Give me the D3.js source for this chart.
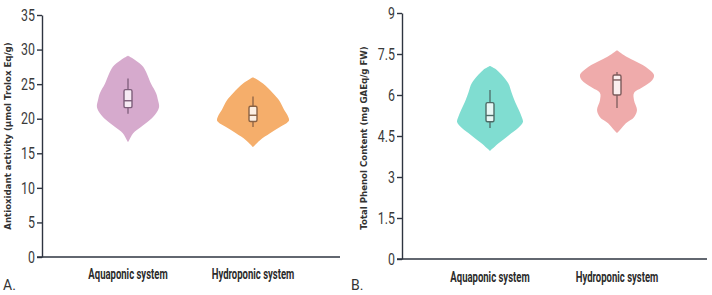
<!DOCTYPE html>
<html>
<head>
<meta charset="utf-8">
<script src="https://cdn.jsdelivr.net/npm/d3@7"></script>
<style>
	body { margin: 0; background: #fff; }
	.tick text { font-family: "Roboto", sans-serif; font-size: 16.5px; fill: #3a3a3a; }
	.xlab { font-family: "Roboto", sans-serif; font-size: 14px; fill: #2b2b2b; font-weight: bold; }
	.ylab { font-family: "DejaVu Sans", sans-serif; font-weight: bold; font-size: 8.6px; fill: #333; }
	.plab { font-family: "Roboto", sans-serif; font-size: 14px; fill: #333; }
</style>
</head>
<body>
<svg id="chart" width="712" height="295"></svg>
<script>
// categories and labels
var systems = ['Aquaponic system', 'Hydroponic system'];
var panelLetters = ['A.', 'B.'];
var yTitles = ['Antioxidant activity (\u00b5mol Trolox Eq/g)', 'Total Phenol Content (mg GAEq/g FW)'];
var ticksA = [0, 5, 10, 15, 20, 25, 30, 35];
var ticksB = [0, 1.5, 3, 4.5, 6, 7.5, 9];

// violin outlines: value levels and relative half-width (density)
var aquaA_levels = [16.6, 16.9, 17.9, 18.8, 19.8, 20.8, 21.7, 22.7, 23.7, 25.1, 27.5, 28.5, 29.1];
var aquaA_density = [0, 0.03, 0.14, 0.35, 0.59, 0.76, 0.84, 0.81, 0.76, 0.62, 0.41, 0.19, 0];
var hydroA_levels = [15.9, 16.9, 17.9, 18.8, 19.7, 20.3, 21.3, 22.7, 23.7, 25.1, 26.0];
var hydroA_density = [0, 0.19, 0.46, 0.73, 0.97, 0.95, 0.84, 0.70, 0.54, 0.27, 0];
var aquaB_levels = [3.95, 4.24, 4.53, 4.79, 5.01, 5.19, 5.45, 5.81, 6.1, 6.44, 6.91, 7.06];
var aquaB_density = [0, 0.24, 0.51, 0.76, 0.89, 0.86, 0.78, 0.66, 0.58, 0.49, 0.19, 0];
var hydroB_levels = [4.61, 4.72, 4.97, 5.19, 5.45, 5.81, 6.07, 6.29, 6.54, 6.73, 7.02, 7.28, 7.39, 7.64];
var hydroB_density = [0, 0.08, 0.24, 0.46, 0.54, 0.46, 0.46, 0.70, 0.95, 1.0, 0.78, 0.43, 0.27, 0];

// box stats: [whisker low, q1, median, q3, whisker high]
var aquaA_box = [20.7, 21.6, 22.6, 24.2, 25.8];
var hydroA_box = [18.8, 19.6, 20.5, 21.8, 23.2];
var aquaB_box = [4.79, 5.02, 5.25, 5.72, 6.18];
var hydroB_box = [5.52, 6.0, 6.55, 6.73, 6.84];

var violinColors = [['#d6aacd', '#f5ae6b'], ['#80ddd1', '#efabab']];
var boxStroke = [['#7d5e7a', '#8a6244'], ['#4d6b67', '#7c5b5b']];
var boxFill = [['#f6eaf3', '#fcefe3'], ['#e8f7f5', '#fbeeee']];

var svg = d3.select('#chart');
var halfW = d3.scaleLinear().domain([0, 1]).range([0, 37]);
var squeeze = 0.75; // narrow the Roboto glyphs to look like the condensed face

var panels = [
	{ x0: 42, x1: 340, yTop: 15, yBot: 257, max: 35, ticks: ticksA, title: yTitles[0], titleX: 8, titleY: 136, letter: panelLetters[0], letterX: 3,
		labelY: 279, centers: [128, 253],
		violins: [[aquaA_levels, aquaA_density], [hydroA_levels, hydroA_density]], boxes: [aquaA_box, hydroA_box] },
	{ x0: 402, x1: 707, yTop: 13, yBot: 259, max: 9, ticks: ticksB, title: yTitles[1], titleX: 364, titleY: 138, letter: panelLetters[1], letterX: 351,
		labelY: 282, centers: [490, 617],
		violins: [[aquaB_levels, aquaB_density], [hydroB_levels, hydroB_density]], boxes: [aquaB_box, hydroB_box] }
];

panels.forEach(function(p, pi){
	var y = d3.scaleLinear().domain([0, p.max]).range([p.yBot, p.yTop]);
	var x = d3.scaleOrdinal().domain(systems).range(p.centers);
	var g = svg.append('g').attr('id', 'panel' + pi);

	// violins
	p.violins.forEach(function(v, i){
		var pts = v[0].map(function(l, k){ return { v: l, d: v[1][k] }; });
		var cx = x(systems[i]);
		var area = d3.area()
			.y(function(d){ return y(d.v); })
			.x0(function(d){ return cx - halfW(d.d); })
			.x1(function(d){ return cx + halfW(d.d); })
			.curve(d3.curveCatmullRom.alpha(0.5));
		g.append('path')
			.datum(pts)
			.attr('d', area)
			.attr('fill', violinColors[pi][i]);
	});

	// boxes
	p.boxes.forEach(function(b, i){
		var cx = x(systems[i]);
		var col = boxStroke[pi][i];
		g.append('line')
			.attr('x1', cx).attr('x2', cx)
			.attr('y1', y(b[0])).attr('y2', y(b[4]))
			.attr('stroke', col).attr('stroke-width', 1.3);
		g.append('rect')
			.attr('x', cx - 4).attr('width', 8)
			.attr('y', y(b[3])).attr('height', y(b[1]) - y(b[3]))
			.attr('rx', 1.5)
			.attr('fill', boxFill[pi][i])
			.attr('stroke', col).attr('stroke-width', 1.4);
		g.append('line')
			.attr('x1', cx - 4).attr('x2', cx + 4)
			.attr('y1', y(b[2])).attr('y2', y(b[2]))
			.attr('stroke', col).attr('stroke-width', 1.4);
	});

	// axes
	var yAxis = d3.axisLeft(y).tickValues(p.ticks).tickFormat(d3.format('')).tickSize(5).tickPadding(2).tickSizeOuter(0);
	var ya = g.append('g').attr('transform', 'translate(' + p.x0 + ',0)').call(yAxis);
	ya.selectAll('.domain, .tick line').attr('stroke', '#2e3440').attr('stroke-width', 1.4);
	ya.selectAll('.tick text')
		.attr('x', -7 / squeeze)
		.attr('transform', 'scale(' + squeeze + ',1)');
	g.append('line')
		.attr('x1', p.x0 - 5).attr('x2', p.x1)
		.attr('y1', p.yBot).attr('y2', p.yBot)
		.attr('stroke', '#2e3440').attr('stroke-width', 1.6);

	systems.forEach(function(s){
		g.append('text').attr('class', 'xlab')
			.attr('transform', 'translate(' + x(s) + ',' + p.labelY + ') scale(0.68,1)')
			.attr('text-anchor', 'middle').text(s);
	});

	g.append('text').attr('class', 'ylab')
		.attr('transform', 'translate(' + p.titleX + ',' + p.titleY + ') rotate(-90)')
		.attr('text-anchor', 'middle').attr('dy', '0.35em')
		.text(p.title);

	g.append('text').attr('class', 'plab')
		.attr('x', p.letterX).attr('y', 290)
		.text(p.letter);
});
</script>
</body>
</html>
